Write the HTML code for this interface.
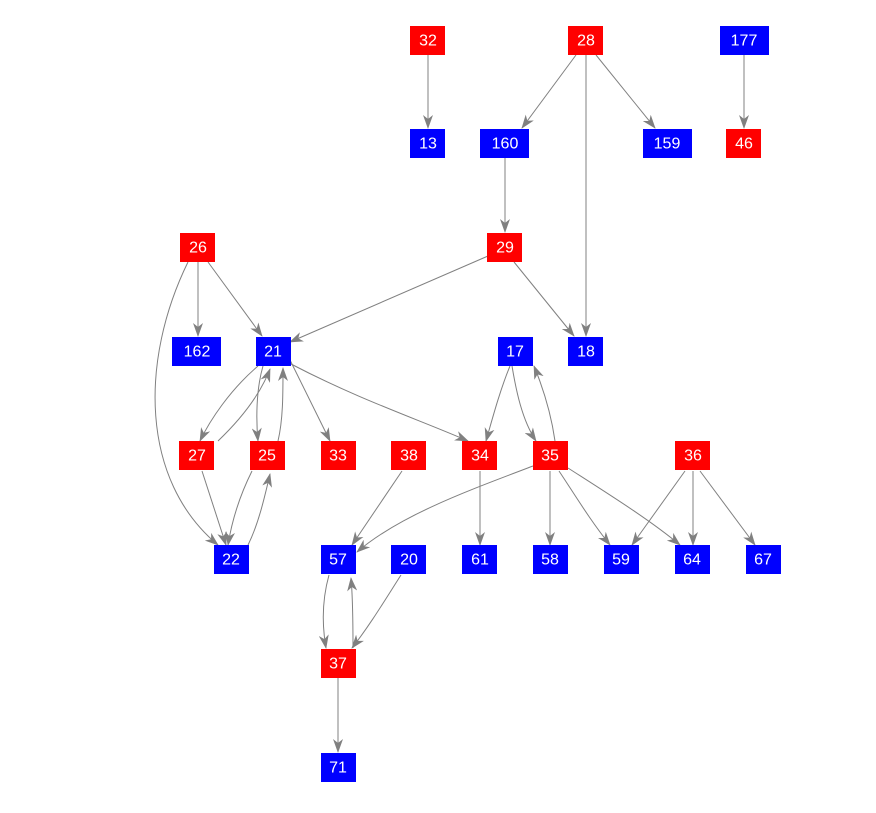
<!DOCTYPE html>
<html><head><meta charset="utf-8"><style>
body{margin:0;background:#fff;width:876px;height:808px;overflow:hidden}
svg text{font-family:"Liberation Sans",sans-serif;font-size:16px;fill:#fff;text-anchor:middle;dominant-baseline:central}
</style></head><body>
<svg width="876" height="808" xmlns="http://www.w3.org/2000/svg">
<defs><marker id="a" markerWidth="14" markerHeight="10" refX="13" refY="5" orient="auto" markerUnits="userSpaceOnUse"><path d="M0,0 L14,5 L0,10 L4,5 Z" fill="#808080"/></marker></defs>
<g stroke="#808080" fill="none" stroke-width="1" marker-end="url(#a)">
<path d="M428,55 L428,128"/>
<path d="M576,55 L522,128"/>
<path d="M596,55 L655,128"/>
<path d="M586,55 L586,336"/>
<path d="M744,55 L744,128"/>
<path d="M505,158 L505,232"/>
<path d="M488,256 L290,342"/>
<path d="M514,262 L574,336"/>
<path d="M198,262 L198,336"/>
<path d="M208,262 L262,336"/>
<path d="M188,262 C140,360 140,480 218,545"/>
<path d="M258,366 C230,390 210,420 200,441"/>
<path d="M218,441 C240,420 260,395 270,369"/>
<path d="M263,366 C256,390 256,420 258,441"/>
<path d="M278,441 C283,420 283,395 283,368"/>
<path d="M252,471 C240,495 232,520 228,545"/>
<path d="M202,471 C210,495 218,520 226,545"/>
<path d="M248,545 C258,525 264,500 270,474"/>
<path d="M290,360 L330,441"/>
<path d="M291,364 C360,400 420,420 468,441"/>
<path d="M510,366 C500,390 492,420 486,441"/>
<path d="M512,366 C516,390 522,420 536,441"/>
<path d="M555,441 C552,420 546,395 534,366"/>
<path d="M533,466 C470,490 400,515 357,552"/>
<path d="M550,471 L550,545"/>
<path d="M559,471 C575,495 590,520 610,545"/>
<path d="M568,468 C610,495 650,520 680,545"/>
<path d="M685,471 L632,545"/>
<path d="M693,471 L693,545"/>
<path d="M700,471 L755,545"/>
<path d="M480,471 L480,545"/>
<path d="M402,471 L352,545"/>
<path d="M329,575 C322,600 322,625 326,648"/>
<path d="M353,648 C353,625 353,600 351,578"/>
<path d="M401,575 C385,600 370,625 352,648"/>
<path d="M338,678 L338,752"/>
</g>
<g>
<rect x="410" y="26" width="35" height="29" fill="#f00"/><text x="428" y="41">32</text>
<rect x="568" y="26" width="35" height="29" fill="#f00"/><text x="586" y="41">28</text>
<rect x="720" y="26" width="49" height="29" fill="#00f"/><text x="744" y="41">177</text>
<rect x="410" y="129" width="35" height="29" fill="#00f"/><text x="428" y="144">13</text>
<rect x="480" y="129" width="49" height="29" fill="#00f"/><text x="505" y="144">160</text>
<rect x="643" y="129" width="49" height="29" fill="#00f"/><text x="667" y="144">159</text>
<rect x="726" y="129" width="35" height="29" fill="#f00"/><text x="744" y="144">46</text>
<rect x="180" y="233" width="35" height="29" fill="#f00"/><text x="198" y="248">26</text>
<rect x="487" y="233" width="35" height="29" fill="#f00"/><text x="505" y="248">29</text>
<rect x="172" y="337" width="49" height="29" fill="#00f"/><text x="197" y="352">162</text>
<rect x="256" y="337" width="35" height="29" fill="#00f"/><text x="273" y="352">21</text>
<rect x="498" y="337" width="35" height="29" fill="#00f"/><text x="515" y="352">17</text>
<rect x="568" y="337" width="35" height="29" fill="#00f"/><text x="586" y="352">18</text>
<rect x="179" y="441" width="35" height="29" fill="#f00"/><text x="197" y="456">27</text>
<rect x="250" y="441" width="35" height="29" fill="#f00"/><text x="267" y="456">25</text>
<rect x="321" y="441" width="35" height="29" fill="#f00"/><text x="338" y="456">33</text>
<rect x="391" y="441" width="35" height="29" fill="#f00"/><text x="409" y="456">38</text>
<rect x="462" y="441" width="35" height="29" fill="#f00"/><text x="480" y="456">34</text>
<rect x="533" y="441" width="35" height="29" fill="#f00"/><text x="550" y="456">35</text>
<rect x="675" y="441" width="35" height="29" fill="#f00"/><text x="693" y="456">36</text>
<rect x="214" y="545" width="35" height="29" fill="#00f"/><text x="231" y="560">22</text>
<rect x="321" y="545" width="35" height="29" fill="#00f"/><text x="338" y="560">57</text>
<rect x="391" y="545" width="35" height="29" fill="#00f"/><text x="409" y="560">20</text>
<rect x="462" y="545" width="35" height="29" fill="#00f"/><text x="480" y="560">61</text>
<rect x="533" y="545" width="35" height="29" fill="#00f"/><text x="550" y="560">58</text>
<rect x="604" y="545" width="35" height="29" fill="#00f"/><text x="621" y="560">59</text>
<rect x="675" y="545" width="35" height="29" fill="#00f"/><text x="692" y="560">64</text>
<rect x="746" y="545" width="35" height="29" fill="#00f"/><text x="763" y="560">67</text>
<rect x="321" y="649" width="35" height="29" fill="#f00"/><text x="338" y="664">37</text>
<rect x="321" y="753" width="35" height="29" fill="#00f"/><text x="338" y="768">71</text>
</g>
</svg>
</body></html>
